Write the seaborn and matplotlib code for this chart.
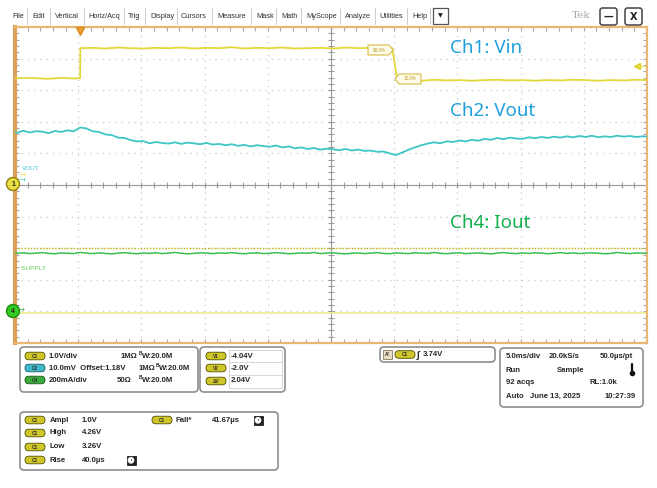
import numpy as np
import pandas as pd
import matplotlib
matplotlib.use("Agg")
import matplotlib.pyplot as plt
import seaborn as sns
from matplotlib.patches import FancyBboxPatch, Rectangle, Circle, Polygon
from matplotlib.ticker import FixedLocator

# ---------------- data ----------------
# Ch1 Vin [V] (1.0 V/div, position 0)
vin_t = [-5.5, -4.5, -3.5, -2.5, -1.5, -0.5, 0.0,
         0.02, 1, 2, 3, 4, 5, 6, 7, 8, 9, 10, 11, 12, 13, 14, 15, 16, 17, 18, 19, 20,
         21, 22, 23, 24, 24.7,
         25.1, 26, 27, 28, 29, 30, 31, 32, 33, 34, 35, 36, 37, 38, 39, 40, 41, 42, 43, 44, 45]
vin_v = [3.37, 3.39, 3.38, 3.36, 3.39, 3.37, 3.38,
         4.33, 4.34, 4.32, 4.35, 4.33, 4.32, 4.34, 4.33, 4.35, 4.32, 4.34, 4.33, 4.36, 4.32,
         4.34, 4.33, 4.35, 4.32, 4.33, 4.34, 4.32, 4.35, 4.33, 4.34, 4.32, 4.33,
         3.31, 3.32, 3.30, 3.33, 3.31, 3.32, 3.30, 3.32, 3.33, 3.31, 3.32, 3.30, 3.32,
         3.31, 3.33, 3.32, 3.30, 3.32, 3.31, 3.33, 3.32]

# Ch2 Vout [mV] (10 mV/div, offset 1.18 V), sampled every 0.5 ms from -5.5 ms
vout_mv = [1196.8,
           1196.5, 1197.2, 1196.6, 1197.0, 1196.9, 1196.4, 1197.1, 1196.8, 1197.3, 1197.0,
           1198.2, 1197.9, 1197.0, 1196.8, 1196.0, 1195.8, 1195.0, 1194.9, 1194.2, 1193.8,
           1193.9, 1193.2, 1193.6, 1193.3, 1193.1, 1193.5, 1193.0, 1193.4, 1193.2, 1192.9,
           1193.3, 1192.8, 1193.0, 1192.6, 1192.9, 1192.4, 1192.7, 1192.2, 1192.6, 1192.3,
           1192.1, 1192.5, 1191.9, 1192.2, 1191.6, 1191.9, 1191.4, 1191.7, 1191.2, 1191.5,
           1191.3, 1191.0, 1191.4, 1190.9, 1191.2, 1190.8, 1190.9, 1190.5, 1190.6, 1190.0,
           1189.5, 1190.3, 1191.2, 1191.9, 1192.6, 1193.1, 1193.5, 1193.2, 1193.8, 1193.6,
           1194.1, 1193.8, 1194.3, 1194.0, 1194.6, 1194.3, 1194.9, 1194.5, 1195.0, 1194.7,
           1194.6, 1195.1, 1194.8, 1195.2, 1194.9, 1195.3, 1195.0, 1195.4, 1195.1, 1195.5,
           1195.2, 1195.6, 1195.1, 1195.4, 1195.2, 1195.6, 1195.3, 1195.5, 1195.2, 1195.4,
           1195.3]

# Ch4 Iout [mA] (200 mA/div, position -4 div), sampled every 0.5 ms from -5.5 ms
iout_ma = [369,
           368, 371, 366, 369, 372, 367, 365, 370, 368, 366,
           373, 369, 366, 370, 367, 364, 369, 372, 368, 365,
           370, 367, 371, 366, 369, 373, 368, 364, 367, 371,
           369, 366, 370, 368, 372, 367, 365, 369, 371, 366,
           368, 372, 369, 365, 367, 370, 368, 373, 366, 369,
           371, 367, 364, 368, 370, 366, 369, 372, 367, 365,
           370, 368, 366, 371, 369, 367, 373, 368, 365, 369,
           371, 366, 368, 370, 367, 364, 369, 372, 368, 366,
           370, 367, 371, 369, 365, 368, 372, 367, 370, 366,
           369, 371, 368, 365, 367, 373, 369, 366, 370, 368,
           369]

cursor_v1 = -4.04
cursor_v2 = -2.0
trig_level = 3.74

menu_items = ["File", "Edit", "Vertical", "Horiz/Acq", "Trig", "Display", "Cursors",
              "Measure", "Mask", "Math", "MyScope", "Analyze", "Utilities", "Help"]

# ---------------- figure ----------------
sns.set_theme(style="white")
plt.rcParams['font.family'] = ['Liberation Sans', 'DejaVu Sans']

W, H = 657, 488
fig = plt.figure(figsize=(W / 100, H / 100), dpi=100)
fig.patch.set_facecolor("white")

L, R, T, B = 15, 647, 27, 343
ax = fig.add_axes([L / W, 1 - B / H, (R - L) / W, (B - T) / H])
ax.set_facecolor("white")

t0 = -5.15  # left edge of screen in ms (trigger at ~1.03 div)
ax.set_xlim(t0, t0 + 50)
ax.set_ylim(-5, 5)

# traces
step = 0.5
t_s = -5.5 + step * np.arange(len(vout_mv))
df_vin = pd.DataFrame({"t": vin_t, "y": np.array(vin_v) / 1.0})
df_vout = pd.DataFrame({"t": t_s, "y": (np.array(vout_mv) - 1180.0) / 10.0})
t_i = -5.5 + step * np.arange(len(iout_ma))
df_iout = pd.DataFrame({"t": t_i, "y": np.array(iout_ma) / 200.0 - 4.0})

# grid
ax.set_xticks([t0 + 5 * k for k in range(11)])
ax.xaxis.set_minor_locator(FixedLocator([t0 + k for k in range(51)]))
ax.set_yticks(np.arange(-5, 6, 1))
ax.yaxis.set_minor_locator(FixedLocator(np.arange(-5, 5.01, 0.2)))
ax.grid(True, which="major", linestyle=(0, (1, 4)), color="#c9c9c9", lw=0.9)
ax.tick_params(which="both", direction="in", top=True, right=True, bottom=True, left=True,
               labelbottom=False, labelleft=False, color="#a8a8a8", length=3, width=0.8)
ax.axhline(0, color="#9a9a9a", lw=0.8, zorder=1)
ax.axvline(t0 + 25, color="#9a9a9a", lw=0.8, zorder=1)
xm = [t0 + k for k in range(51)]
ax.plot(xm, [0] * len(xm), ls="none", marker="|", ms=4, color="#9a9a9a", mew=0.8, zorder=1)
ym = np.arange(-5, 5.01, 0.2)
ax.plot([t0 + 25] * len(ym), ym, ls="none", marker="_", ms=4, color="#9a9a9a", mew=0.8, zorder=1)

# cursors
ax.axhline(cursor_v2, color="#c9b400", lw=1.0, ls=(0, (1, 1.2)), zorder=2)
ax.axhline(cursor_v1, color="#ecec90", lw=1.2, zorder=2)

sns.lineplot(data=df_vin, x="t", y="y", ax=ax, color="#e3d83a", lw=1.3, sort=False, legend=False, zorder=4)
sns.lineplot(data=df_vout, x="t", y="y", ax=ax, color="#3ec6c6", lw=1.3, sort=False, legend=False, zorder=4)
sns.lineplot(data=df_iout, x="t", y="y", ax=ax, color="#3dbe50", lw=1.1, sort=False, legend=False, zorder=4)
ax.set_xlabel("")
ax.set_ylabel("")

for s in ["top", "bottom", "right"]:
    ax.spines[s].set_color("#eab874")
    ax.spines[s].set_linewidth(1.6)
ax.spines["left"].set_color("#d9a25c")
ax.spines["left"].set_linewidth(3)

# ---------------- overlay in pixel coordinates ----------------
ov = fig.add_axes([0, 0, 1, 1], zorder=5)
ov.set_facecolor("none")
ov.set_xlim(0, W)
ov.set_ylim(H, 0)
ov.axis("off")

# menu bar
menu_x = [12, 32, 55, 88, 128, 150, 181, 217, 256, 281, 306, 345, 379, 412]
for mx, m in zip(menu_x, menu_items):
    ov.text(mx, 16, m, fontsize=5.3, color="#333333", va="center", ha="left")
for sx in [27, 50, 84, 124, 145, 177, 212, 251, 276, 301, 340, 375, 407, 430]:
    ov.plot([sx, sx], [8, 24], color="#cccccc", lw=0.7)
ov.add_patch(Rectangle((433, 8), 15, 16, fc="white", ec="#555555", lw=0.9))
ov.text(440.5, 16, "▼", fontsize=4.5, ha="center", va="center", color="#222222",
        family=["DejaVu Sans"])
ov.text(581, 16, "Tek", fontsize=7.5, ha="center", va="center", color="#a6a6a6", family=["DejaVu Serif"])
for bx, lab in [(600, "—"), (625, "X")]:
    ov.add_patch(FancyBboxPatch((bx, 8), 17, 17, boxstyle="round,pad=0,rounding_size=2.5",
                                fc="white", ec="#444444", lw=1.1))
    ov.text(bx + 8.5, 16.5, lab, fontsize=7, ha="center", va="center", color="#222222",
            fontweight="bold", family=["DejaVu Sans"])

# trigger position marker, trigger level marker
ov.plot(80, 30.5, marker="v", ms=6, color="#f0a030", mec="#d88a20")
ov.plot(637, 66, marker="<", ms=5, color="#e6e040", mec="#d8d030")
ov.plot([640, 646], [66, 66], color="#e6e040", lw=1, ls=(0, (2, 1)))

# 90% / 10% labels
ov.add_patch(Polygon([(368, 45), (389, 45), (393, 50), (389, 55), (368, 55)], closed=True,
                     fc="#fffbe6", ec="#d6bc48", lw=0.8))
ov.text(379, 50, "90.0%", fontsize=3.3, ha="center", va="center", color="#b89a28")
ov.add_patch(Polygon([(399, 74), (421, 74), (421, 84), (399, 84), (395, 79)], closed=True,
                     fc="#fffbe6", ec="#d6bc48", lw=0.8))
ov.text(410, 79, "10.0%", fontsize=3.3, ha="center", va="center", color="#b89a28")

# channel markers and labels
ov.add_patch(Circle((13, 184), 6.5, fc="#e8e040", ec="#8f8010", lw=1))
ov.text(13, 184.5, "1", fontsize=5, ha="center", va="center", color="#222222", fontweight="bold")
ov.text(20, 176, "→", fontsize=5, color="#e6e040", va="center", family=["DejaVu Sans"])
ov.text(20, 181, "→", fontsize=5, color="#3ec6c6", va="center", family=["DejaVu Sans"])
ov.text(22, 168, "VOUT", fontsize=4.6, color="#46c8d8", va="center")
ov.add_patch(Circle((13, 311), 6.5, fc="#33cc22", ec="#1f8a10", lw=1))
ov.text(13, 311.5, "4", fontsize=5, ha="center", va="center", color="#222222", fontweight="bold")
ov.text(19, 311, "→", fontsize=5, color="#2fb02f", va="center", family=["DejaVu Sans"])
ov.text(21, 269, "'SUPPLY", fontsize=4.6, color="#5cd060", va="center")

# big annotations
ann_font = ["Noto Sans", "DejaVu Sans"]
ov.text(450, 48, "Ch1: Vin", fontsize=13.5, color="#1ea0dc", va="center", family=ann_font)
ov.text(450, 111, "Ch2: Vout", fontsize=13.5, color="#1ea0dc", va="center", family=ann_font)
ov.text(450, 223, "Ch4: Iout", fontsize=13.5, color="#13b04c", va="center", family=ann_font)

# ---------------- bottom panels ----------------
FS = 5.6
def box(x0, y0, x1, y1):
    ov.add_patch(FancyBboxPatch((x0, y0), x1 - x0, y1 - y0, boxstyle="round,pad=0,rounding_size=4",
                                fc="white", ec="#8e8e8e", lw=1.2))

def badge(x, y, label, fc, ec="#4d4d00"):
    ov.add_patch(FancyBboxPatch((x, y - 3.8), 20, 7.6, boxstyle="round,pad=0,rounding_size=3.8",
                                fc=fc, ec=ec, lw=0.6))
    ov.text(x + 10, y + 0.3, label, fontsize=3.4, ha="center", va="center", color="#2a2a2a",
            fontweight="bold")

def txt(x, y, s, **kw):
    ov.text(x, y, s, fontsize=kw.pop("fs", FS), fontweight="bold", va="center", ha=kw.pop("ha", "left"),
            color="#262626", **kw)

def bw(x, y):
    ov.text(x, y - 2.2, "B", fontsize=3.4, fontweight="bold", va="center", color="#262626")
    txt(x + 3, y + 0.5, "W:20.0M")

YEL = "#cfc62a"
# channel box
box(20, 347, 198, 392)
rows = [356, 368, 380]
badge(25, rows[0], "C1", YEL)
badge(25, rows[1], "C2", "#3fb9cc", ec="#1f5a66")
badge(25, rows[2], "C4", "#3caa3c", ec="#1b5a1b")
txt(49, rows[0], "1.0V/div"); txt(121, rows[0], "1MΩ"); bw(139, rows[0])
txt(49, rows[1], "10.0mV  Offset:1.18V"); txt(139, rows[1], "1MΩ"); bw(156, rows[1])
txt(49, rows[2], "200mA/div"); txt(117, rows[2], "50Ω"); bw(139, rows[2])

# cursor box
box(200, 347, 285, 392)
ov.add_patch(Rectangle((229, 350), 53, 38, fc="white", ec="#d0d0d0", lw=0.6))
ov.plot([229, 282], [362, 362], color="#d0d0d0", lw=0.6)
ov.plot([229, 282], [375, 375], color="#d0d0d0", lw=0.6)
badge(206, 356, "V1", YEL); txt(231, 356, "-4.04V")
badge(206, 368, "V2", YEL); txt(231, 368, "-2.0V")
badge(206, 381, "ΔV", YEL); txt(231, 381, "2.04V")

# trigger box
box(380, 347, 495, 362)
ov.add_patch(Rectangle((383, 350), 9, 9, fc="#e6dcc4", ec="#8a7a60", lw=0.6))
ov.text(387.5, 354.5, "A'", fontsize=3.6, ha="center", va="center", fontweight="bold", color="#222222")
badge(395, 354.5, "C1", YEL)
txt(417, 354.5, "∫", fs=7)
txt(423, 354.5, f"{trig_level:.2f}V")

# horizontal/acquisition box
box(500, 348, 643, 407)
txt(506, 357, "5.0ms/div"); txt(549, 357, "20.0kS/s"); txt(600, 357, "50.0µs/pt")
txt(506, 370, "Run"); txt(557, 370, "Sample")
ov.plot([632, 632], [364, 372], color="#111111", lw=1.6)
ov.plot(632, 373, marker="o", ms=3, color="#111111")
txt(506, 383, "92 acqs"); txt(590, 383, "RL:1.0k")
txt(506, 396, "Auto   June 13, 2025"); txt(605, 396, "10:27:39")

# measurement box
box(20, 412, 278, 470)
mrows = [420, 433, 447, 460]
for yy, lab, val in zip(mrows, ["Ampl", "High", "Low", "Rise"], ["1.0V", "4.26V", "3.26V", "40.0µs"]):
    badge(25, yy, "C1", YEL)
    txt(50, yy, lab)
    txt(82, yy, val)
badge(152, mrows[0], "C1", YEL)
txt(175, mrows[0], "Fall*")
txt(212, mrows[0], "41.67µs")

def clock(x, y):
    ov.add_patch(Rectangle((x - 4.5, y - 4.5), 9, 9, fc="#222222", ec="#222222", lw=0.6))
    ov.add_patch(Circle((x, y + 0.3), 3.0, fc="white", ec="white", lw=0.5))
    ov.plot([x, x], [y - 1.5, y + 0.3], color="#222222", lw=0.6)

clock(131, mrows[3])
clock(258, mrows[0])

fig.savefig("out.png", dpi=100, facecolor="white")
